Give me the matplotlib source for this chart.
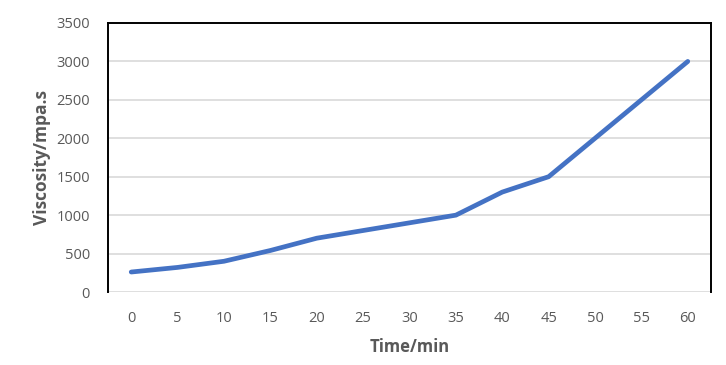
import numpy as np
import matplotlib.pyplot as plt

# data
time_min = [0, 5, 10, 15, 20, 25, 30, 35, 40, 45, 50, 55, 60]
viscosity = [260, 320, 400, 540, 700, 800, 900, 1000, 1300, 1500, 2000, 2500, 3000]

plt.rcParams['font.family'] = ['Open Sans', 'DejaVu Sans']

fig = plt.figure(figsize=(7.26, 3.65), dpi=100)
ax = fig.add_axes([0.1488, 0.2, 0.9793 - 0.1488, 0.937 - 0.2])

pos = np.arange(len(time_min))
ax.plot(pos, viscosity, color='#4472C4', lw=3.4, solid_joinstyle='round',
        solid_capstyle='round', zorder=3)

ax.set_xlim(-0.5, len(time_min) - 0.5)
ax.set_ylim(0, 3500)
ax.set_yticks(range(0, 3501, 500))
ax.set_xticks(pos)
ax.set_xticklabels([str(t) for t in time_min])

ax.yaxis.grid(True, color='#D9D9D9', lw=1.2)
ax.set_axisbelow(True)

for s in ['left', 'top', 'right']:
    ax.spines[s].set_color('black')
    ax.spines[s].set_linewidth(1.4)
ax.spines['bottom'].set_visible(False)

ax.tick_params(axis='both', length=0, labelsize=10.5, labelcolor='#595959')
ax.tick_params(axis='y', pad=13)
ax.tick_params(axis='x', pad=14)

ax.set_xlabel('Time/min', fontsize=12, fontweight='bold', color='#595959', labelpad=8)
ax.set_ylabel('Viscosity/mpa.s', fontsize=12.5, fontweight='bold', color='#595959', labelpad=4)

fig.savefig('out.png', dpi=100)
